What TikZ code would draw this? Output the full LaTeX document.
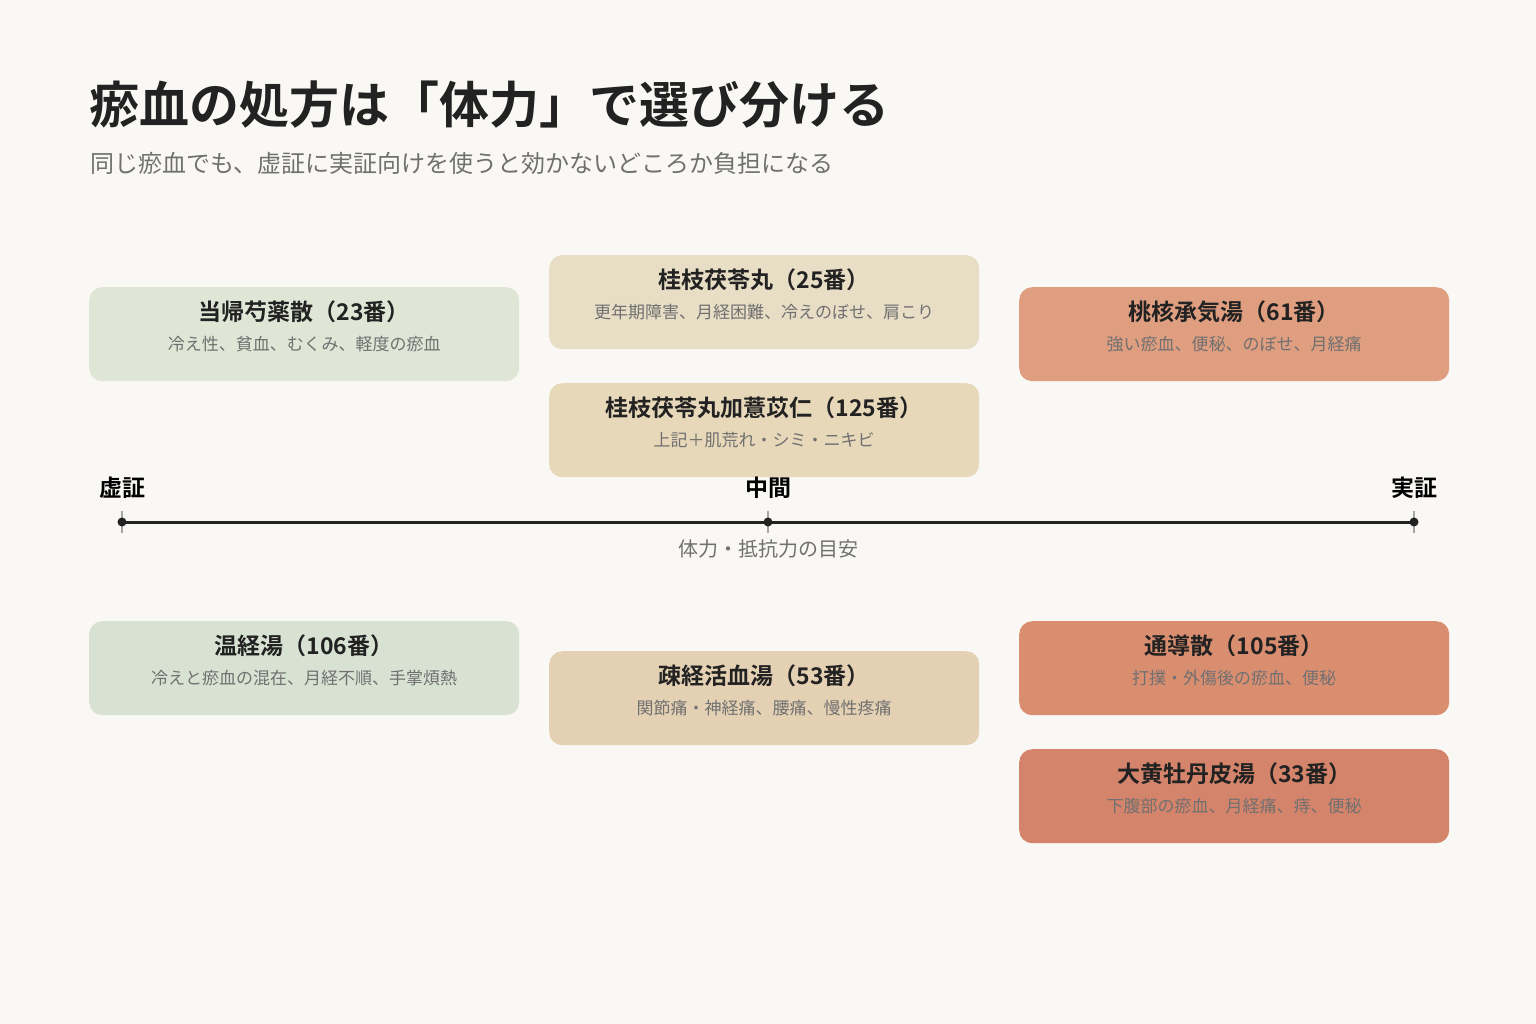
\documentclass[tikz,border=0pt]{standalone}
\usepackage{fontspec}
\setmainfont{Noto Sans CJK JP}
\newfontfamily\jpbold{Noto Sans CJK JP Bold}
\usetikzlibrary{positioning}
\definecolor{bgc}{HTML}{FAF8F4}
\definecolor{greenA}{HTML}{DFE6D6}
\definecolor{greenB}{HTML}{D8E2D2}
\definecolor{sandA}{HTML}{E8DDC5}
\definecolor{sandB}{HTML}{E8D8BA}
\definecolor{sandC}{HTML}{E4D1B3}
\definecolor{rustA}{HTML}{DF9E80}
\definecolor{rustB}{HTML}{DA8E70}
\definecolor{rustC}{HTML}{D4846A}
\definecolor{inkc}{HTML}{222222}
\definecolor{greyc}{HTML}{707070}
\tikzset{box/.style = {rounded corners=13pt, minimum width=430pt, minimum height=94pt, inner sep=0, draw=none, anchor=north west},
         kname/.style = {font=\jpbold\fontsize{23}{26}\selectfont, text=inkc},
         ksub/.style = {font=\fontsize{17}{20}\selectfont, text=greyc},
         pole/.style = {font=\jpbold\fontsize{23}{26}\selectfont, text=black},
         tick/.style = {draw=gray!70, line width=1.2pt}}
% box macro: name, x, y, colour, title, subtitle
\newcommand{\kampo}[6]{%
  \node [box, fill=#4] (#1) at (#2, #3) {};
  \node [kname] (#1t) at ([yshift=-25pt]#1.north) {#5};
  \node [ksub] (#1s) at ([yshift=-57pt]#1.north) {#6};}

\begin{document}
\begin{tikzpicture}[x=1pt, y=-1pt]
  \fill [bgc] (0, 0) rectangle (1536, 1024);
  \useasboundingbox (0, 0) rectangle (1536, 1024);

  \node [anchor=base west, font=\jpbold\fontsize{50}{56}\selectfont, text=inkc] (title) at (86, 124) {瘀血の処方は「体力」で選び分ける};
  \node [anchor=base west, font=\fontsize{24}{28}\selectfont, text=greyc] (subtitle) at (87, 173) {同じ瘀血でも、虚証に実証向けを使うと効かないどころか負担になる};

  \kampo{toki}{89}{287}{greenA}{当帰芍薬散（23番）}{冷え性、貧血、むくみ、軽度の瘀血}
  \kampo{keishi}{549}{255}{sandA}{桂枝茯苓丸（25番）}{更年期障害、月経困難、冷えのぼせ、肩こり}
  \kampo{keishiy}{549}{383}{sandB}{桂枝茯苓丸加薏苡仁（125番）}{上記＋肌荒れ・シミ・ニキビ}
  \kampo{tokaku}{1019}{287}{rustA}{桃核承気湯（61番）}{強い瘀血、便秘、のぼせ、月経痛}

  \kampo{unkei}{89}{621}{greenB}{温経湯（106番）}{冷えと瘀血の混在、月経不順、手掌煩熱}
  \kampo{sokei}{549}{651}{sandC}{疎経活血湯（53番）}{関節痛・神経痛、腰痛、慢性疼痛}
  \kampo{tsudo}{1019}{621}{rustB}{通導散（105番）}{打撲・外傷後の瘀血、便秘}
  \kampo{daio}{1019}{749}{rustC}{大黄牡丹皮湯（33番）}{下腹部の瘀血、月経痛、痔、便秘}

  % axis
  \coordinate (kyo) at (122, 522);
  \coordinate (mid) at (768, 522);
  \coordinate (jitsu) at (1414, 522);
  \draw [line width=3pt, draw=inkc] (kyo) -- (jitsu);
  \foreach \p in {kyo, mid, jitsu} {
    \draw [tick] ([yshift=-11pt]\p) -- ([yshift=11pt]\p);
    \fill [inkc] (\p) circle (4.5pt);
  }
  \node [pole, above=20pt of kyo] (kyoL) {虚証};
  \node [pole, above=20pt of mid] (midL) {中間};
  \node [pole, above=20pt of jitsu] (jitsuL) {実証};
  \node [ksub, font=\fontsize{20}{24}\selectfont, below=14pt of mid] (axisL) {体力・抵抗力の目安};
\end{tikzpicture}
\end{document}
